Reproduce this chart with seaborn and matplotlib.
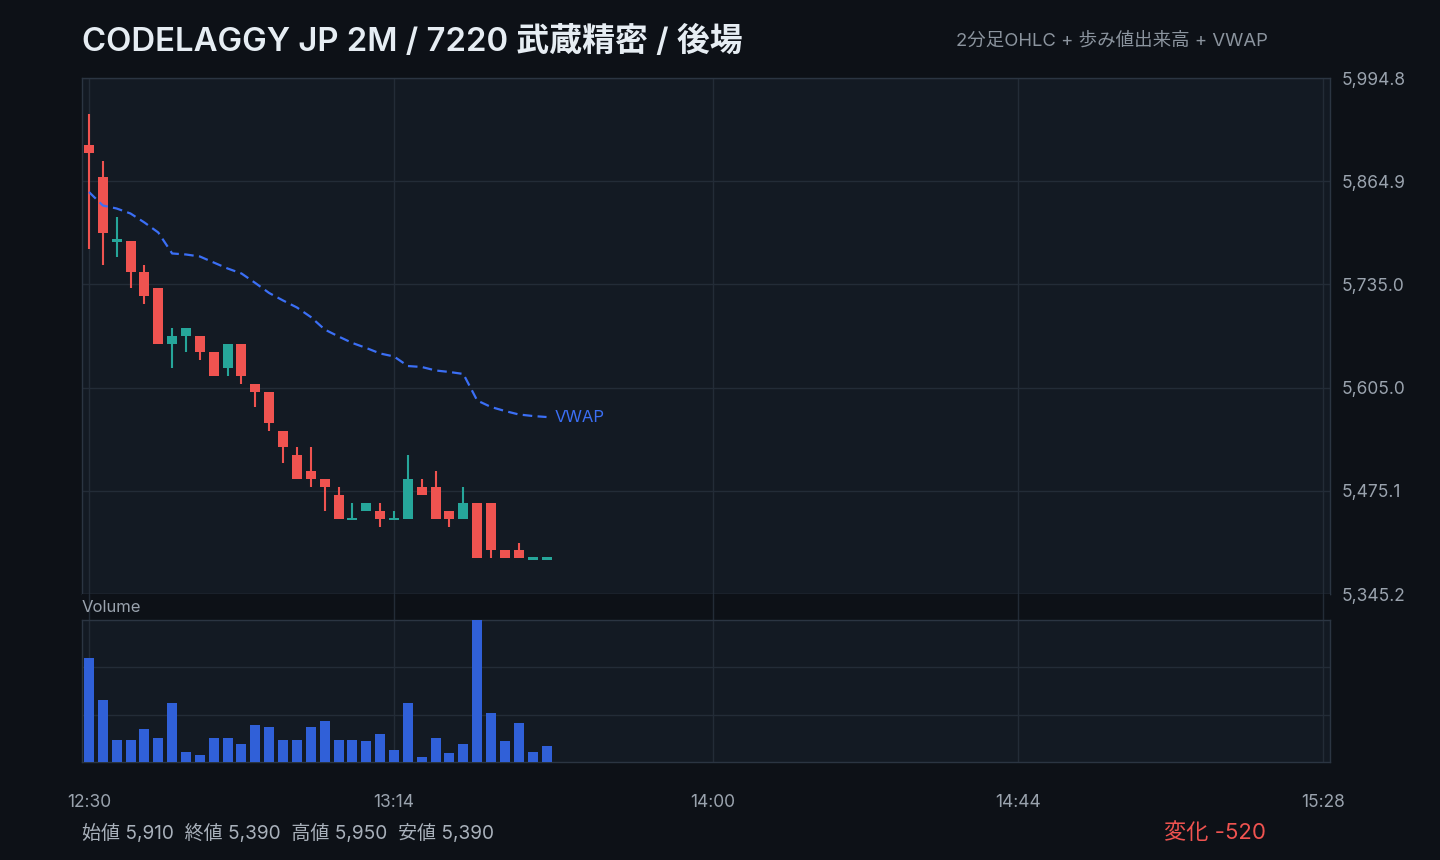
import numpy as np
import pandas as pd
import matplotlib
matplotlib.use("Agg")
import matplotlib.pyplot as plt
import seaborn as sns

# ==========================================
# Data (2-minute bars from 12:30)
# ==========================================
opens = [5910, 5870, 5790, 5790, 5750, 5730, 5660, 5670, 5670, 5650, 5630, 5660,
         5610, 5600, 5550, 5520, 5500, 5490, 5470, 5440, 5450, 5450, 5440, 5440,
         5480, 5480, 5450, 5440, 5460, 5460, 5400, 5400, 5390, 5390]
highs = [5950, 5890, 5820, 5790, 5760, 5730, 5680, 5680, 5670, 5650, 5660, 5660,
         5610, 5600, 5550, 5530, 5530, 5490, 5480, 5460, 5460, 5460, 5450, 5520,
         5490, 5500, 5450, 5480, 5460, 5460, 5400, 5410, 5390, 5390]
lows = [5780, 5760, 5770, 5730, 5710, 5660, 5630, 5650, 5640, 5620, 5620, 5610,
        5580, 5550, 5510, 5490, 5480, 5450, 5440, 5440, 5450, 5430, 5440, 5440,
        5470, 5440, 5430, 5440, 5390, 5390, 5390, 5390, 5390, 5390]
closes = [5900, 5800, 5790, 5750, 5720, 5660, 5670, 5680, 5650, 5620, 5660, 5620,
          5600, 5560, 5530, 5490, 5490, 5480, 5440, 5440, 5460, 5440, 5440, 5490,
          5470, 5440, 5440, 5460, 5390, 5400, 5390, 5390, 5390, 5390]
volumes = [36700, 22000, 7900, 7600, 11500, 8300, 20600, 3400, 2300, 8600, 8600, 6500,
           13200, 12500, 7900, 7600, 12500, 14600, 7900, 7600, 7300, 9700, 4100, 20900,
           1600, 8600, 3000, 6500, 50000, 17100, 7300, 13900, 3400, 5500]
vwap = [5851.3, 5834.3, 5830.5, 5824.2, 5812.9, 5800.3, 5773.9, 5772.6, 5770.1, 5762.5,
        5755.0, 5748.7, 5736.7, 5724.1, 5714.7, 5705.9, 5693.9, 5678.2, 5669.4, 5661.2,
        5654.9, 5648.0, 5644.2, 5632.2, 5631.0, 5626.6, 5624.7, 5622.2, 5588.8, 5580.6,
        5575.6, 5571.2, 5569.3, 5568.0]

n_slots = 90  # 12:30 .. 15:28 in 2-minute steps
tick_idx = [0, 22, 45, 67, 89]
tick_labels = ["12:30", "13:14", "14:00", "14:44", "15:28"]

title = "CODELAGGY JP 2M / 7220 武蔵精密 / 後場"
subtitle = "2分足OHLC + 歩み値出来高 + VWAP"

# ==========================================
# Styling
# ==========================================
BG = "#0d1117"
PANEL = "#131a23"
GRID = "#232c37"
SPINE = "#2b3542"
TXT = "#9aa3ae"
UP = "#26a69a"
DOWN = "#ef5350"
VOL = "#3060d8"
VWAP_C = "#3b6ff5"

sns.set_theme(style="dark")
plt.rcParams['font.family'] = ['Inter', 'Noto Sans CJK JP', 'DejaVu Sans']

W, H = 1440, 860
fig = plt.figure(figsize=(W / 100, H / 100), dpi=100, facecolor=BG)

def box(x0, y0, x1, y1):
    return [x0 / W, 1 - y1 / H, (x1 - x0) / W, (y1 - y0) / H]

ax = fig.add_axes(box(82, 78, 1330, 594))
gap = fig.add_axes(box(82, 594, 1330, 620))
axv = fig.add_axes(box(82, 620, 1330, 762))

df = pd.DataFrame({"o": opens, "h": highs, "l": lows, "c": closes,
                   "v": volumes, "vwap": vwap})
df["i"] = np.arange(len(df))
df["up"] = df["c"] >= df["o"]
colors = np.where(df["up"], UP, DOWN)

# ==========================================
# Price panel: candles + VWAP
# ==========================================
lo, hi = df["l"].min(), df["h"].max()
pad = (hi - lo) * 0.08
ymin, ymax = lo - pad, hi + pad

ax.vlines(df["i"], df["l"], df["h"], color=colors, lw=1.5, zorder=3)
body = (df["c"] - df["o"]).abs()
min_body = 3.0
bottoms = np.where(body < min_body, df[["o", "c"]].min(axis=1) - min_body / 2,
                   df[["o", "c"]].min(axis=1))
heights = np.maximum(body, min_body)
ax.bar(df["i"], heights, bottom=bottoms, width=0.72, color=colors, lw=0, zorder=4)

sns.lineplot(x=df["i"], y=df["vwap"], ax=ax, color=VWAP_C, linewidth=1.6,
             linestyle=(0, (4.3, 2.4)), zorder=5)
ax.text(df["i"].iloc[-1] + 0.6, df["vwap"].iloc[-1], "VWAP", color=VWAP_C,
        fontsize=12, va="center", ha="left")

ax.set_xlim(-0.5, n_slots - 0.5)
ax.set_ylim(ymin, ymax)
yt = np.linspace(ymin, ymax, 6)
ax.set_yticks(yt)
ax.set_yticklabels([f"{v:,.1f}" for v in yt])
ax.yaxis.tick_right()
ax.set_xticks(tick_idx)
ax.tick_params(axis="x", labelbottom=False, length=0)
ax.tick_params(axis="y", length=0, pad=8.5, labelsize=12.5, labelcolor=TXT)
ax.set_xlabel("")
ax.set_ylabel("")

# ==========================================
# Gap strip (vertical grid continues through it)
# ==========================================
gap.set_facecolor(BG)
gap.set_xlim(-0.5, n_slots - 0.5)
gap.set_ylim(0, 1)
gap.set_xticks(tick_idx)
gap.set_yticks([])
gap.tick_params(axis="x", labelbottom=False, length=0)
for s in gap.spines.values():
    s.set_visible(False)
gap.text(0.0, 0.5, "Volume", transform=gap.transAxes, color=TXT, fontsize=12,
         va="center", ha="left")

# ==========================================
# Volume panel
# ==========================================
sns.barplot(x=df["i"], y=df["v"], ax=axv, native_scale=True, width=0.72,
            color=VOL, saturation=1, errorbar=None, linewidth=0, zorder=3)
vmax = df["v"].max()
axv.set_xlim(-0.5, n_slots - 0.5)
axv.set_ylim(0, vmax)
axv.set_yticks([vmax / 3, vmax * 2 / 3])
axv.set_yticklabels([])
axv.set_xticks(tick_idx)
axv.set_xticklabels(tick_labels)
axv.tick_params(axis="x", length=0, pad=23, labelsize=12.5, labelcolor=TXT)
axv.tick_params(axis="y", length=0)
axv.set_xlabel("")
axv.set_ylabel("")

for a in (ax, gap, axv):
    a.grid(True, color=GRID, lw=1.0)
    a.set_axisbelow(True)
for a in (ax, axv):
    a.set_facecolor(PANEL)
    for s in a.spines.values():
        s.set_visible(True)
        s.set_color(SPINE)
        s.set_linewidth(1.0)

# ==========================================
# Titles and footer
# ==========================================
fig.text(82 / W, 1 - 41.5 / H, title, color="#e6edf3", fontsize=23.7, weight="semibold",
         va="center", ha="left")
fig.text(1268 / W, 1 - 41 / H, subtitle, color="#8b949e", fontsize=13.3,
         va="center", ha="right")

stats = (f"始値 {opens[0]:,}  終値 {closes[-1]:,}  高値 {hi:,}  安値 {lo:,}")
fig.text(82 / W, 1 - 833 / H, stats, color="#a9b1bb", fontsize=13.7,
         va="center", ha="left")
change = closes[-1] - opens[0]
fig.text(1266 / W, 1 - 833 / H, f"変化 {change:+,}".replace("+", ""),
         color=DOWN, fontsize=16, va="center", ha="right")

fig.savefig("out.png", dpi=100, facecolor=BG)
plt.close(fig)
